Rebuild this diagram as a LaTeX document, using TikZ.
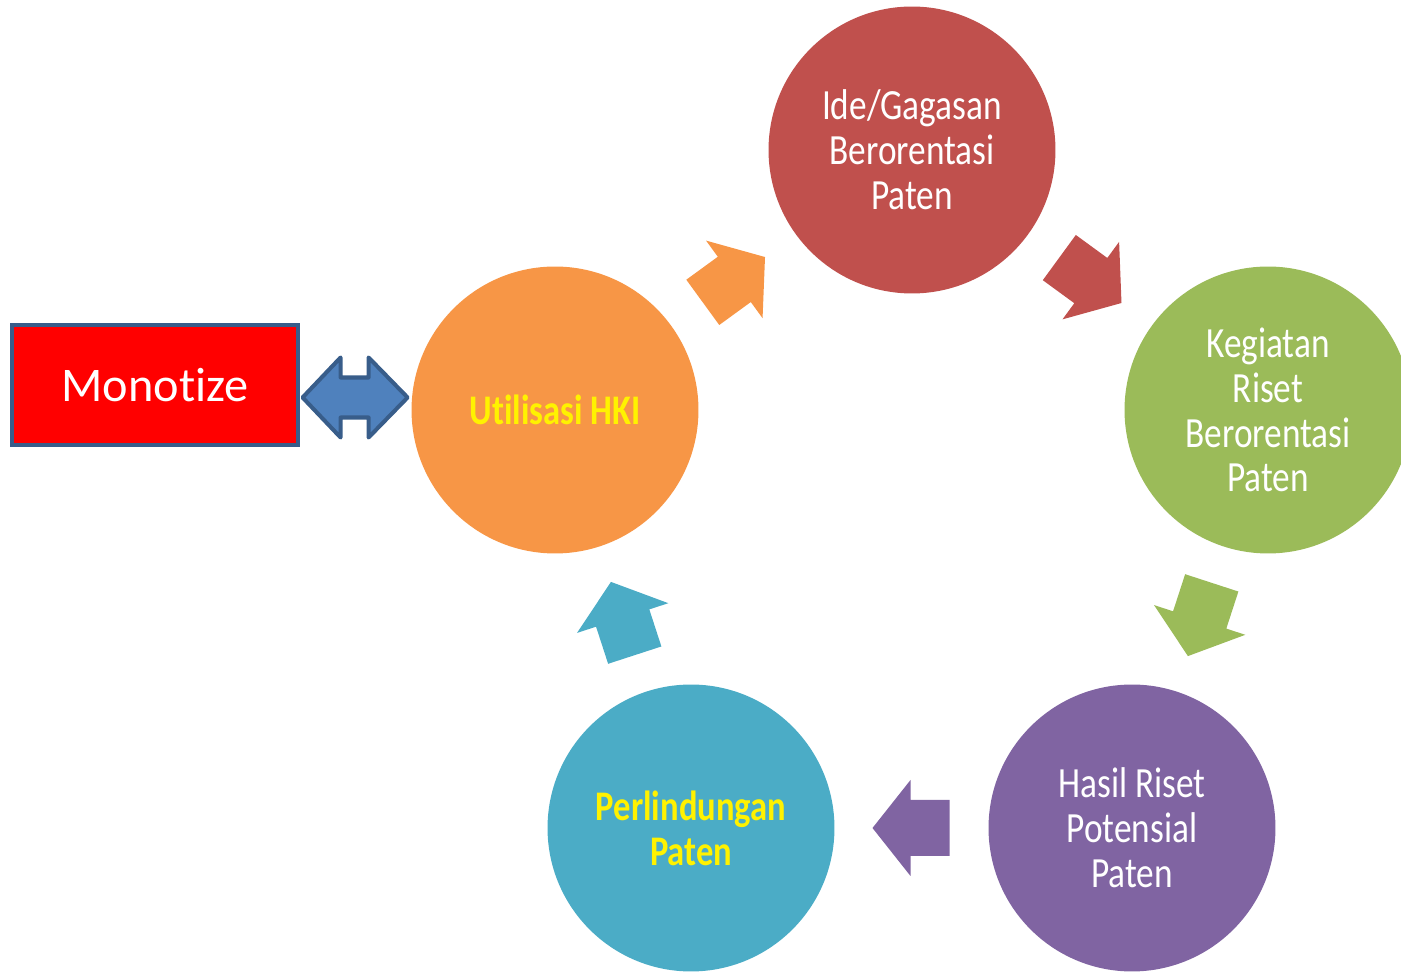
\documentclass[tikz,border=0pt]{standalone}
\usepackage{fontspec}
\setmainfont{Carlito}[Ligatures=NoCommon]
\newfontfamily\cyclefont[FakeStretch=0.82,Ligatures=NoCommon]{Carlito}
\usetikzlibrary{calc}
\definecolor{ideRed}{HTML}{C0504D}
\definecolor{risetGreen}{HTML}{9BBB59}
\definecolor{hasilPurple}{HTML}{8064A2}
\definecolor{patenTeal}{HTML}{4BACC6}
\definecolor{hkiOrange}{HTML}{F79646}
\definecolor{linkBlue}{HTML}{4F81BD}
\definecolor{edgeBlue}{HTML}{385D8A}

\begin{document}
\begin{tikzpicture}[x=0.02cm,y=-0.02cm,
		stage/.style={circle,minimum size=5.74cm,inner sep=0pt,align=center,text=white,
			font=\cyclefont\fontsize{24.5}{25.5}\selectfont},
		hilite/.style={text=yellow,font=\cyclefont\bfseries\fontsize{24}{25.5}\selectfont},
		monobox/.style={rectangle,fill=red,draw=edgeBlue,line width=2.3pt,
			minimum width=5.72cm,minimum height=2.4cm,text=white,font=\fontsize{27.5}{30}\selectfont},
		cyclearrow/.pic={\fill (-38,-28) -- (1,-28) -- (1,-48) -- (39,0) -- (1,48) -- (1,28) -- (-38,28) -- cycle;},
		linkarrow/.pic={\draw[fill=linkBlue,draw=edgeBlue,line width=2.3pt,line join=round]
			(-53,0) -- (-15,-40) -- (-15,-20) -- (13,-20) -- (13,-40) -- (52,0)
			-- (13,40) -- (13,20) -- (-15,20) -- (-15,40) -- cycle;}]
		\useasboundingbox (0,0) rectangle (1401,972);
		%
		% stages
		\node[stage,fill=ideRed] (ide) at (912,150) {Ide/Gagasan\\Berorentasi\\Paten};
		\node[stage,fill=risetGreen] (riset) at (1268,410) {Kegiatan\\Riset\\Berorentasi\\Paten};
		\node[stage,fill=hasilPurple] (hasil) at (1132,828) {Hasil Riset\\Potensial\\Paten};
		\node[stage,hilite,fill=patenTeal] (lindung) at (691,828) {Perlindungan\\Paten};
		\node[stage,hilite,fill=hkiOrange] (hki) at (555,410) {Utilisasi HKI};
		%
		% cycle arrows
		\path (hki) -- pic[midway,sloped,allow upside down,fill=hkiOrange]{cyclearrow} (ide);
		\path (ide) -- pic[midway,sloped,allow upside down,fill=ideRed]{cyclearrow} (riset);
		\path (riset) -- pic[midway,sloped,allow upside down,fill=risetGreen]{cyclearrow} (hasil);
		\path (hasil) -- pic[midway,sloped,allow upside down,fill=hasilPurple]{cyclearrow} (lindung);
		\path (lindung) -- pic[midway,sloped,allow upside down,fill=patenTeal]{cyclearrow} (hki);
		%
		% monotize
		\node[monobox] (mono) at (155,385) {Monotize};
		\coordinate (link) at ($(mono.east)!0.5!(hki.west)$);
		\pic at (link) {linkarrow};
	\end{tikzpicture}
\end{document}
